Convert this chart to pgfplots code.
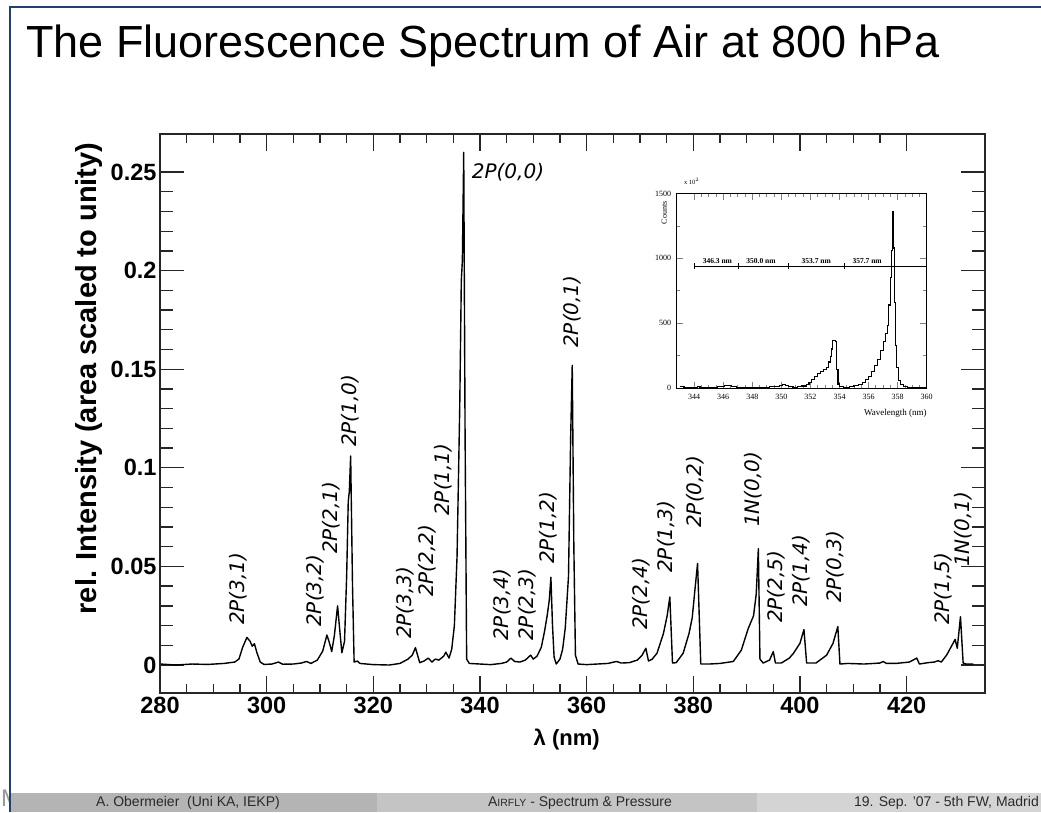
\documentclass[border=0pt]{standalone}
\usepackage{pgfplots}
\pgfplotsset{compat=1.18}
\usepackage{fontspec}
\setmainfont{Liberation Sans}
\newfontfamily\lblfont{DejaVu Sans}
\newfontfamily\serfont{Liberation Serif}
\definecolor{bordercol}{HTML}{22406A}
\definecolor{footA}{HTML}{B4B4B4}
\definecolor{footB}{HTML}{C4C4C4}
\definecolor{footC}{HTML}{D4D4D4}
\definecolor{foottext}{HTML}{2A2A2A}
\tikzset{peak/.style={rotate=90, anchor=west, inner sep=0, font=\lblfont\itshape\fontsize{20}{20}\selectfont}}

\pgfplotstableread{
lam v
280 0.0005
283 0.0
286 0.0005
289 0.0003
292 0.0008
294 0.0015
294.8 0.003
295.5 0.009
296.3 0.0140
296.9 0.0120
297.3 0.0095
297.7 0.0108
298.2 0.006
298.8 0.0015
299.5 0.0003
301 0.0005
302.2 0.0015
303 0.0004
305 0.0005
306.5 0.001
307.5 0.0018
308.3 0.0008
309.5 0.0025
310.5 0.007
311.3 0.0152
311.8 0.0110
312.2 0.0068
312.7 0.0150
313.3 0.0300
313.7 0.0180
314.1 0.0062
314.6 0.0120
315.0 0.0450
315.3 0.0830
315.5 0.0880
315.75 0.1060
316.1 0.0400
316.4 0.0015
317.0 0.0020
317.5 0.0008
320 0.0002
323 0.0000
325 0.0008
326.5 0.0030
327.3 0.0050
327.9 0.0088
328.3 0.0050
328.7 0.0012
329.5 0.0020
330.3 0.0035
331 0.0015
331.6 0.0030
332.3 0.0025
333.2 0.0045
333.6 0.0065
334.2 0.0035
334.7 0.0080
335.2 0.0200
335.7 0.0550
336.2 0.1300
336.5 0.1950
336.7 0.2050
336.95 0.2600
337.2 0.1200
337.5 0.0030
338 0.0008
340 0.0005
342 0.0002
344 0.0008
345 0.0015
345.8 0.0035
346.5 0.0018
347.5 0.0015
348.5 0.0025
349.5 0.0050
350.0 0.0030
350.7 0.0045
351.5 0.0090
352.1 0.0170
352.6 0.0250
353.0 0.0330
353.3 0.0445
353.6 0.0200
353.9 0.0040
354.3 0.0005
355 0.0030
355.5 0.0080
356.0 0.0190
356.6 0.0450
357.0 0.1150
357.3 0.1520
357.6 0.0600
357.9 0.0050
358.4 0.0005
360 0.0002
362 0.0005
364 0.0008
365.6 0.0018
366.5 0.0010
368 0.0012
369.5 0.0025
370.4 0.0050
371.1 0.0085
371.6 0.0020
372.3 0.0030
373.2 0.0060
374.4 0.0160
375.1 0.0250
375.6 0.0345
376.1 0.0010
376.8 0.0012
378.1 0.0060
379.2 0.0160
379.8 0.0240
380.3 0.0380
380.8 0.0515
381.4 0.0005
383 0.0005
385 0.0008
387.5 0.0018
389.0 0.0075
390.3 0.0185
391.3 0.0250
391.8 0.0360
392.2 0.0590
392.5 0.0030
393.1 0.0010
394.3 0.0025
395.0 0.0068
395.4 0.0010
396.5 0.0010
398.0 0.0035
398.8 0.0060
400.0 0.0110
400.75 0.0180
401.25 0.0010
403 0.0010
405 0.0050
406.2 0.0110
407.1 0.0195
407.5 0.0005
409 0.0008
412 0.0005
415 0.0010
415.6 0.0018
416.2 0.0008
418 0.0008
420.5 0.0015
421.9 0.0035
422.4 0.0005
424 0.0012
425.2 0.0015
425.9 0.0022
426.5 0.0015
427.5 0.0050
428.5 0.0100
429.1 0.0130
429.5 0.0085
430.1 0.0245
430.6 0.0010
431.2 0.0005
432.5 0.0005
}\mainspec

\pgfplotstableread{
lam c
343.0 8
343.3 2
343.6 5
343.9 3
344.2 12
344.4 4
344.8 6
345.2 5
345.6 8
345.9 14
346.1 22
346.4 18
346.6 8
346.9 4
347.4 6
347.8 3
348.3 5
348.8 6
349.2 8
349.6 12
349.9 22
350.1 28
350.3 18
350.5 8
350.8 4
351.1 10
351.4 15
351.7 25
351.9 45
352.1 65
352.3 85
352.5 110
352.7 130
352.9 145
353.1 160
353.25 200
353.35 240
353.45 300
353.5 365
353.75 360
353.82 140
353.9 30
354.0 12
354.3 6
354.7 10
355.0 18
355.3 28
355.6 45
355.8 65
356.0 90
356.2 125
356.4 170
356.6 220
356.8 290
357.0 360
357.15 420
357.3 480
357.4 640
357.48 850
357.55 1060
357.62 1365
357.72 1080
357.78 660
357.85 330
357.95 160
358.05 60
358.2 25
358.4 12
358.7 6
359.0 4
359.4 3
359.8 2
360.0 2
}\insetspec

\begin{document}
\begin{tikzpicture}
\path[use as bounding box] (0pt,0pt) rectangle (1041pt,-812pt);
\begin{scope}[x=1pt,y=-1pt]
  \fill[white] (0,0) rectangle (1041,812);
  \begin{scope}
    \clip (0,780) rectangle (9,812);
    \node[anchor=base west, inner sep=0, text=gray!80, font=\fontsize{24}{24}\selectfont] at (1,806) {M};
  \end{scope}
  \fill[footA] (11,793) rectangle (377,812);
  \fill[footB] (377,793) rectangle (757,812);
  \fill[footC] (757,793) rectangle (1041,812);
  \draw[bordercol, line width=2pt] (10,812) -- (10,7) -- (1045,7);
  \node[anchor=base west, inner sep=0, font=\fontsize{45}{45}\selectfont] at (26,57) {The Fluorescence Spectrum of Air at 800 hPa};
  \node[anchor=center, inner sep=0, text=foottext, font=\fontsize{14}{14}\selectfont] at (188,803) {A. Obermeier\ \ (Uni KA, IEKP)};
  \node[anchor=center, inner sep=0, text=foottext, font=\fontsize{14}{14}\selectfont] at (580,803) {A{\fontsize{10.5}{10.5}\selectfont IRFLY} - Spectrum \& Pressure};
  \node[anchor=east, inner sep=0, text=foottext, font=\fontsize{14}{14}\selectfont] at (1039,803) {19. Sep. '07 - 5th FW, Madrid};
\end{scope}

% main axis with y ticks and all labels
\begin{axis}[
  at={(160pt,-693pt)}, anchor=south west,
  width=825pt, height=559pt, scale only axis,
  xmin=280, xmax=434.7, ymin=-0.0142, ymax=0.2693,
  xtick={280,300,320,340,360,380,400,420},
  minor x tick num=3,
  ytick={0,0.05,0.1,0.15,0.2,0.25},
  yticklabels={0,0.05,0.1,0.15,0.2,0.25},
  minor y tick num=4,
  tick align=inside,
  major tick length=24pt, minor tick length=13pt,
  xtick style={draw=none},
  ytick style={line width=1.3pt, black!85},
  axis line style={line width=1.5pt, black!85},
  /pgf/number format/assume math mode=true,
  ticklabel style={font=\bfseries\fontsize{23.5}{23.5}\selectfont},
  xticklabel style={yshift=-1pt},
  xlabel={λ (nm)},
  ylabel={rel. Intensity (area scaled to unity)},
  every axis x label/.style={at={(axis description cs:0.493,-0.084)}, anchor=center, font=\bfseries\fontsize{22}{22}\selectfont},
  every axis y label/.style={at={(axis description cs:-0.0764,0.5626)}, rotate=90, anchor=base, inner sep=0pt, font=\bfseries\fontsize{29}{29}\selectfont},
  clip=false,
]
\addplot[black, line width=1.4pt, line join=round] table[x=lam, y=v] {\mainspec};
\node[peak] at (axis cs:294.7,0.0203) {2P(3,1)};
\node[peak] at (axis cs:309.06,0.0193) {2P(3,2)};
\node[peak] at (axis cs:312.2,0.0563) {2P(2,1)};
\node[peak] at (axis cs:315.6,0.1105) {2P(1,0)};
\node[peak] at (axis cs:325.9,0.0132) {2P(3,3)};
\node[peak] at (axis cs:330.1,0.0345) {2P(2,2)};
\node[peak] at (axis cs:333.1,0.0756) {2P(1,1)};
\node[anchor=west, inner sep=0, font=\lblfont\itshape\fontsize{20}{20}\selectfont] at (axis cs:338.45,0.25) {2P(0,0)};
\node[peak] at (axis cs:344.1,0.0122) {2P(3,4)};
\node[peak] at (axis cs:348.8,0.0122) {2P(2,3)};
\node[peak] at (axis cs:352.8,0.0512) {2P(1,2)};
\node[peak] at (axis cs:357.25,0.1608) {2P(0,1)};
\node[peak] at (axis cs:370.3,0.0177) {2P(2,4)};
\node[peak] at (axis cs:375.0,0.0467) {2P(1,3)};
\node[peak] at (axis cs:380.3,0.0695) {2P(0,2)};
\node[peak] at (axis cs:391.2,0.0700) {1N(0,0)};
\node[peak] at (axis cs:395.6,0.0213) {2P(2,5)};
\node[peak] at (axis cs:400.3,0.0294) {2P(1,4)};
\node[peak] at (axis cs:406.6,0.0314) {2P(0,3)};
\node[peak] at (axis cs:426.8,0.0203) {2P(1,5)};
\node[peak] at (axis cs:430.6,0.0497) {1N(0,1)};
\end{axis}

% overlay axis for the shorter x ticks
\begin{axis}[
  at={(160pt,-693pt)}, anchor=south west,
  width=825pt, height=559pt, scale only axis,
  xmin=280, xmax=434.7, ymin=-0.0142, ymax=0.2693,
  xtick={280,300,320,340,360,380,400,420},
  minor x tick num=3,
  xticklabel=\empty,
  ytick=\empty,
  tick align=inside,
  major tick length=17pt, minor tick length=9pt,
  xtick style={line width=1.3pt, black!85},
  axis line style={line width=1.5pt, black!85},
]
\end{axis}

% inset
\begin{axis}[
  at={(676.7pt,-388.3pt)}, anchor=south west,
  width=250pt, height=195pt, scale only axis,
  xmin=342.8, xmax=360, ymin=-3, ymax=1502,
  xtick={344,346,...,360}, minor x tick num=3,
  ytick={0,500,1000,1500}, minor y tick num=1,
  tick align=inside,
  major tick length=6.5pt, minor tick length=3.5pt,
  axis background/.style={fill=white},
  axis line style={line width=1pt},
  tick style={line width=0.8pt},
  /pgf/number format/1000 sep={},
  /pgf/number format/assume math mode=true,
  ticklabel style={font=\serfont\fontsize{8}{8}\selectfont},
  yticklabel style={xshift=-2pt},
  xticklabel style={yshift=-2pt},
  clip=false,
]
\addplot[black, line width=1.1pt, const plot] table[x=lam, y=c] {\insetspec};
\addplot[black, line width=1pt] coordinates {(344.0,940) (360,940)};
\addplot[black, only marks, mark=|, mark size=3pt, mark options={line width=0.9pt}] coordinates {(344.0,940) (347.08,940) (350.47,940) (354.33,940)};
\node[font=\serfont\bfseries\fontsize{7.5}{7.5}\selectfont, anchor=south, inner sep=1pt] at (axis cs:345.6,950) {346.3 nm};
\node[font=\serfont\bfseries\fontsize{7.5}{7.5}\selectfont, anchor=south, inner sep=1pt] at (axis cs:348.6,950) {350.0 nm};
\node[font=\serfont\bfseries\fontsize{7.5}{7.5}\selectfont, anchor=south, inner sep=1pt] at (axis cs:352.4,950) {353.7 nm};
\node[font=\serfont\bfseries\fontsize{7.5}{7.5}\selectfont, anchor=south, inner sep=1pt] at (axis cs:355.9,950) {357.7 nm};
\node[font=\serfont\fontsize{9}{9}\selectfont, anchor=east, inner sep=0] at (axis description cs:1,-0.13) {Wavelength (nm)};
\node[font=\serfont\fontsize{8}{8}\selectfont, rotate=90, anchor=center, inner sep=0] at (axis description cs:-0.05,0.9) {Counts};
\node[font=\serfont\fontsize{6.5}{6.5}\selectfont, anchor=center, inner sep=0] at (axis description cs:0.06,1.06) {x 10$^{2}$};
\end{axis}
\end{tikzpicture}
\end{document}
